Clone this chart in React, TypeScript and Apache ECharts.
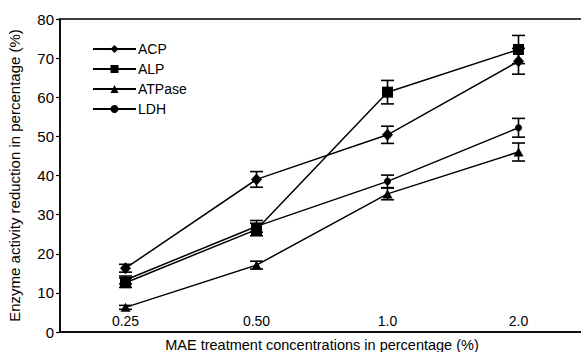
import React, { useEffect, useRef } from "react";
import * as echarts from "echarts";

const categories = ["0.25", "0.50", "1.0", "2.0"];
const acp = [16.3, 39.0, 50.4, 69.2];
const alp = [12.6, 26.2, 61.3, 72.2];
const atpase = [6.3, 17.1, 35.3, 46.0];
const ldh = [13.3, 27.0, 38.5, 52.2];
const acpErr = [1.0, 2.0, 2.2, 3.3];
const alpErr = [1.2, 1.6, 3.0, 3.6];
const atpaseErr = [0.5, 1.0, 1.5, 2.3];
const ldhErr = [1.0, 1.5, 1.6, 2.4];
const yTicks = { min: 0, max: 80, interval: 10 };

const FONT = "Liberation Sans, Arial, sans-serif";

function errSeries(vals: number[], errs: number[]) {
  return {
    type: "custom",
    silent: true,
    z: 1,
    renderItem: (params: any, api: any) => {
      const x = api.value(0);
      const lo = api.coord([x, api.value(1)]);
      const hi = api.coord([x, api.value(2)]);
      const cap = 6.5;
      const style = { stroke: "#000", lineWidth: 1.6 };
      return {
        type: "group",
        children: [
          { type: "line", shape: { x1: lo[0], y1: lo[1], x2: hi[0], y2: hi[1] }, style },
          { type: "line", shape: { x1: lo[0] - cap, y1: lo[1], x2: lo[0] + cap, y2: lo[1] }, style },
          { type: "line", shape: { x1: hi[0] - cap, y1: hi[1], x2: hi[0] + cap, y2: hi[1] }, style },
        ],
      };
    },
    data: vals.map((v, i) => [i, v - errs[i], v + errs[i]]),
  };
}

function lineSeries(name: string, vals: number[], symbol: string, size: number | number[]) {
  return {
    name,
    type: "line",
    data: vals,
    symbol,
    symbolSize: size,
    showAllSymbol: true,
    z: 3,
    lineStyle: { color: "#000", width: 1.5 },
    itemStyle: { color: "#000", borderWidth: 0 },
  };
}

export default function App() {
  const ref = useRef<HTMLDivElement>(null);
  useEffect(() => {
    const chart = echarts.init(ref.current!, null, { renderer: "svg" });
    chart.setOption({
      animation: false,
      backgroundColor: "#fff",
      textStyle: { fontFamily: FONT },
      grid: {
        left: 60,
        top: 19,
        width: 524,
        height: 313,
        outerBoundsMode: "none",
        containLabel: false,
        show: true,
        borderColor: "#000",
        borderWidth: 1.5,
      },
      legend: {
        left: 92,
        top: 42,
        padding: 0,
        orient: "vertical",
        itemWidth: 43,
        itemHeight: 10,
        itemGap: 6,
        data: ["ACP", "ALP", "ATPase", "LDH"],
        textStyle: { fontFamily: FONT, fontSize: 14, color: "#000", padding: [0, 0, 0, -3] },
      },
      xAxis: {
        type: "category",
        data: categories,
        boundaryGap: true,
        axisLine: { lineStyle: { color: "#000", width: 1.5 } },
        axisTick: { show: false },
        axisLabel: { inside: true, margin: 4, fontFamily: FONT, fontSize: 14, color: "#000" },
        name: "MAE treatment concentrations in percentage (%)",
        nameLocation: "middle",
        nameGap: 11,
        nameTextStyle: { fontFamily: FONT, fontSize: 14.5, lineHeight: 15, color: "#000", verticalAlign: "middle" },
      },
      yAxis: {
        type: "value",
        min: yTicks.min,
        max: yTicks.max,
        interval: yTicks.interval,
        splitLine: { show: false },
        axisLine: { show: true, lineStyle: { color: "#000", width: 1.5 } },
        axisTick: { show: true, length: 4, lineStyle: { color: "#000", width: 1.2 } },
        axisLabel: { margin: 6, fontFamily: FONT, fontSize: 15, color: "#000" },
        name: "Enzyme activity reduction in percentage (%)",
        nameLocation: "middle",
        nameGap: 38,
        nameTextStyle: { fontFamily: FONT, fontSize: 15, color: "#000" },
      },
      series: [
        lineSeries("ACP", acp, "diamond", [11, 12]),
        lineSeries("ALP", alp, "rect", 11),
        lineSeries("ATPase", atpase, "triangle", [10, 9]),
        lineSeries("LDH", ldh, "circle", 7),
        errSeries(acp, acpErr),
        errSeries(alp, alpErr),
        errSeries(atpase, atpaseErr),
        errSeries(ldh, ldhErr),
      ],
    });
    return () => chart.dispose();
  }, []);
  return <div ref={ref} style={{ width: 581, height: 352, position: "absolute", left: 0, top: 0 }} />;
}
